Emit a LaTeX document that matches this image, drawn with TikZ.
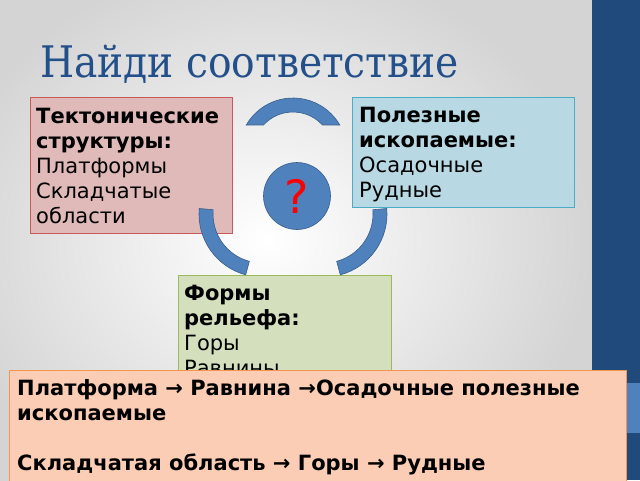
\documentclass[tikz,border=0pt]{standalone}
\usepackage{fontspec}
\usetikzlibrary{calc}
\setmainfont{DejaVu Sans}
\IfFontExistsTF{DejaVu Serif Condensed}{\newfontfamily\titlefont{DejaVu Serif Condensed}}{\newfontfamily\titlefont[FakeStretch=0.9]{DejaVu Serif}}
\definecolor{tekfill}{HTML}{E0B9B9}
\definecolor{tekdraw}{HTML}{C9585A}
\definecolor{polfill}{HTML}{B8D9E3}
\definecolor{poldraw}{HTML}{4BACC6}
\definecolor{relfill}{HTML}{D4DFBE}
\definecolor{reldraw}{HTML}{9BBB59}
\definecolor{ansfill}{HTML}{FBCDB5}
\definecolor{ansdraw}{HTML}{F0964F}
\definecolor{accblue}{HTML}{4F81BD}
\definecolor{accdark}{HTML}{385D8A}
\definecolor{barblue}{HTML}{214A7C}
\definecolor{titleblue}{HTML}{23508A}
\definecolor{bggray}{RGB}{212,212,212}
\begin{document}
\begin{tikzpicture}[x=1pt,y=-1pt,
  box/.style={rectangle, draw, line width=0.8pt, inner sep=0, anchor=north west},
  txt/.style={anchor=north west, inner sep=0, align=left, font=\fontsize{21}{25}\selectfont},
  band/.style={fill=accblue, draw=accdark, line width=0.6pt}]
\useasboundingbox (0,0) rectangle (640,480);
\begin{scope}
\clip (0,0) rectangle (640,480);
\shade[inner color=white, outer color=bggray] (-60,-40) rectangle (592,520);
\fill[barblue] (592,0) rectangle (640,480);
\fill[accblue] (592,383) rectangle (640,433);

\node[text=titleblue, font=\titlefont\fontsize{43.5}{44}\selectfont, anchor=base west, inner sep=0] (title) at (40,77) {Найди соответствие};

\node[box, fill=tekfill, draw=tekdraw, minimum width=202, minimum height=136] (tek) at (30,97) {};
\node[txt] (tektxt) at ([shift={(6,10.7)}]tek.north west) {\textbf{Тектонические}\\\textbf{структуры:}\\Платформы\\Складчатые\\области};

\node[box, fill=polfill, draw=poldraw, minimum width=222, minimum height=110] (pol) at (352,97) {};
\node[txt] (poltxt) at ([shift={(7,9.7)}]pol.north west) {\textbf{Полезные}\\\textbf{ископаемые:}\\Осадочные\\Рудные};

\node[box, fill=relfill, draw=reldraw, minimum width=213, minimum height=115] (rel) at (178,275) {};
\node[txt] (reltxt) at ([shift={(6,9.5)}]rel.north west) {\textbf{Формы}\\\textbf{рельефа:}\\Горы\\Равнины};

% block arcs
\coordinate (tc) at (293,152);
\coordinate (lc) at (262,214);
\coordinate (rc) at (324,214);
\fill[band] ($(tc)+(210:54)$) arc[start angle=210, end angle=330, radius=54] -- ($(tc)+(317.5:40)$) arc[start angle=317.5, end angle=222.5, radius=40] -- cycle;
\fill[band] ($(lc)+(105:63)$) arc[start angle=105, end angle=185, radius=63] -- ($(lc)+(185:49)$) arc[start angle=185, end angle=105, radius=49] -- cycle;
\fill[band] ($(rc)+(75:63)$) arc[start angle=75, end angle=-5, radius=63] -- ($(rc)+(-5:49)$) arc[start angle=-5, end angle=75, radius=49] -- cycle;

\node[circle, fill=accblue, draw=accdark, line width=0.6pt, minimum size=67, inner sep=0, text=red, font=\fontsize{46}{46}\selectfont] (q) at (297,196) {?};

\node[box, fill=ansfill, draw=ansdraw, minimum width=617, minimum height=130] (ans) at (9,370) {};
\node[txt, font=\bfseries\fontsize{21}{25}\selectfont] (anstxt) at ([shift={(8,9.7)}]ans.north west) {Платформа → Равнина →Осадочные полезные\\ископаемые\\[25pt]Складчатая область → Горы → Рудные};
\end{scope}
\end{tikzpicture}
\end{document}
